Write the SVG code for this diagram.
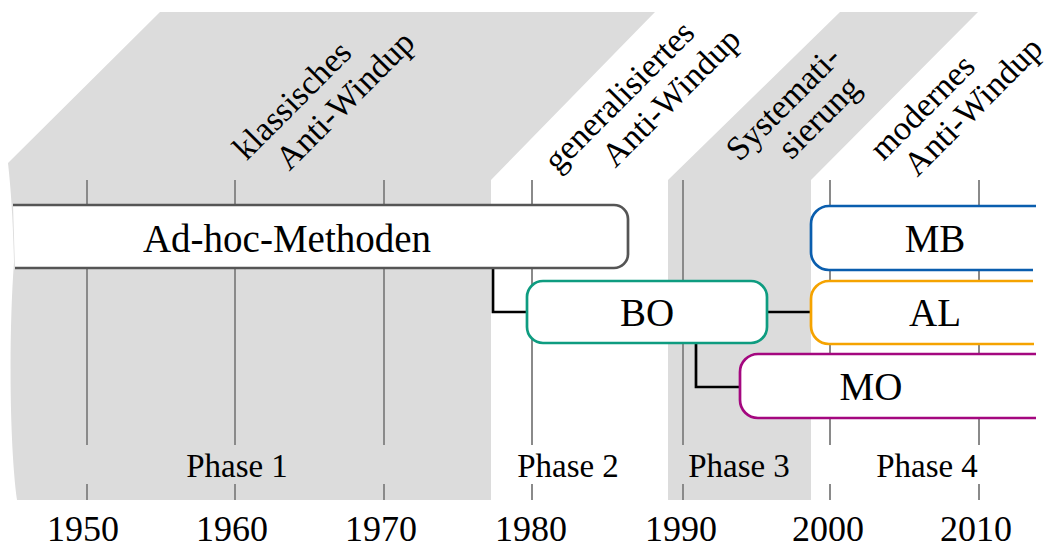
<svg xmlns="http://www.w3.org/2000/svg" width="1048" height="548" viewBox="0 0 1048 548">
  <style>
    .band { fill: #dcdcdc; stroke: none; }
    .tick { stroke: #8a8a8a; stroke-width: 2; fill: none; }
    .box { fill: #ffffff; stroke-width: 2.7; stroke-linejoin: round; }
    .link { fill: none; stroke: #000000; stroke-width: 2.7; }
    text { font-family: "Liberation Serif", "Times New Roman", serif; fill: #000000; }
    .main { font-size: 39px; text-anchor: middle; }
    .year { font-size: 36px; text-anchor: middle; }
    .phase { font-size: 33px; text-anchor: middle; }
    .era { font-size: 34px; text-anchor: middle; }
  </style>

  <!-- shaded phase bands with slanted headers -->
  <g id="bands">
    <path class="band" d="M 8,163 L 160,12 L 655,12 L 491,180 L 491,500 L 17,500 C 9,440 9,330 14,262 C 13,220 11,190 8,163 Z"/>
    <path class="band" d="M 668,180 L 840,12 L 978,12 L 811,180 L 811,500 L 668,500 Z"/>
  </g>

  <!-- decade grid lines -->
  <g id="grid">
    <path class="tick" d="M 87,180 V 445 M 87,484 V 500"/>
    <path class="tick" d="M 235,180 V 445 M 235,484 V 500"/>
    <path class="tick" d="M 384,180 V 445 M 384,484 V 500"/>
    <path class="tick" d="M 532,180 V 445 M 532,484 V 500"/>
    <path class="tick" d="M 683,180 V 445 M 683,484 V 500"/>
    <path class="tick" d="M 830,180 V 445 M 830,484 V 500"/>
    <path class="tick" d="M 979,180 V 445 M 979,484 V 500"/>
  </g>

  <!-- era headings -->
  <g id="era-classic">
    <text class="era" x="300" y="108" transform="rotate(-45 300 108)">klassisches</text>
    <text class="era" x="353" y="108" transform="rotate(-45 353 108)">Anti-Windup</text>
  </g>
  <g id="era-generalised">
    <text class="era" x="627" y="104" transform="rotate(-45 627 104)">generalisiertes</text>
    <text class="era" x="679" y="105" transform="rotate(-45 679 105)">Anti-Windup</text>
  </g>
  <g id="era-systematic">
    <text class="era" x="791" y="111" transform="rotate(-45 791 111)">Systemati-</text>
    <text class="era" x="827" y="125" transform="rotate(-45 827 125)">sierung</text>
  </g>
  <g id="era-modern">
    <text class="era" x="930" y="115" transform="rotate(-45 930 115)">modernes</text>
    <text class="era" x="981" y="114" transform="rotate(-45 981 114)">Anti-Windup</text>
  </g>

  <!-- connectors -->
  <g id="connectors">
    <path class="link" d="M 493,268 V 312 H 527"/>
    <path class="link" d="M 767,312 H 811"/>
    <path class="link" d="M 696,343 V 387 H 740"/>
  </g>

  <!-- method boxes -->
  <g id="adhoc">
    <path class="box" stroke="#555555" d="M 13,205 H 614 A 14 14 0 0 1 628,219 V 254 A 14 14 0 0 1 614,268 H 15"/>
    <text class="main" x="287" y="252">Ad-hoc-Methoden</text>
  </g>
  <g id="bo">
    <rect class="box" stroke="#0e9c80" x="527" y="281" width="240" height="62" rx="16" ry="16"/>
    <text class="main" x="647" y="326">BO</text>
  </g>
  <g id="mb">
    <path class="box" stroke="#0a5eae" d="M 1036,206 H 829 A 18 18 0 0 0 811,224 V 252 A 18 18 0 0 0 829,270 H 1033"/>
    <text class="main" x="935" y="252">MB</text>
  </g>
  <g id="al">
    <path class="box" stroke="#f5a300" d="M 1033,281 H 829 A 18 18 0 0 0 811,299 V 326 A 18 18 0 0 0 829,344 H 1034"/>
    <text class="main" x="935" y="326">AL</text>
  </g>
  <g id="mo">
    <path class="box" stroke="#a4077f" d="M 1036,354 H 758 A 18 18 0 0 0 740,372 V 400 A 18 18 0 0 0 758,418 H 1036"/>
    <text class="main" x="871" y="400">MO</text>
  </g>

  <!-- phase names -->
  <g id="phases">
    <text class="phase" x="237" y="477">Phase 1</text>
    <text class="phase" x="568" y="477">Phase 2</text>
    <text class="phase" x="739" y="477">Phase 3</text>
    <text class="phase" x="927" y="477">Phase 4</text>
  </g>

  <!-- year axis -->
  <g id="years">
    <text class="year" x="83" y="541">1950</text>
    <text class="year" x="232" y="541">1960</text>
    <text class="year" x="381" y="541">1970</text>
    <text class="year" x="531" y="541">1980</text>
    <text class="year" x="681" y="541">1990</text>
    <text class="year" x="828" y="541">2000</text>
    <text class="year" x="976" y="541">2010</text>
  </g>
</svg>
